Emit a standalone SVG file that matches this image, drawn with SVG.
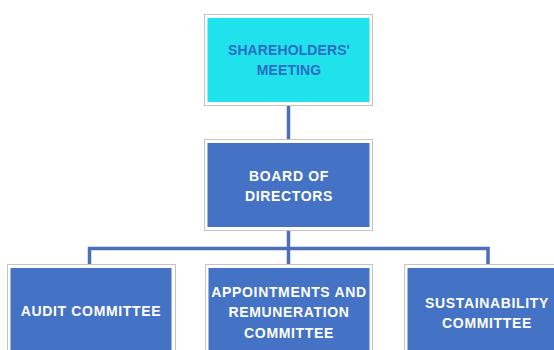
<svg xmlns="http://www.w3.org/2000/svg" width="554" height="350" viewBox="0 0 554 350">
<style>
.frame{fill:#ffffff;stroke:#c4c4c4;stroke-width:1}
.fill{fill:#4472c4}
.cyan{fill:#1fe2ec}
.t{font-family:"Liberation Sans",Arial,sans-serif;font-weight:bold;font-size:14px;text-anchor:middle;dominant-baseline:central;letter-spacing:0.65px}
.w{fill:#ffffff}
.b{fill:#2b6cc4;letter-spacing:0.1px}
.conn{fill:none;stroke:#4a70b8;stroke-width:3.5}
</style>
<rect width="554" height="350" fill="#ffffff"/>
<g id="connectors">
<path class="conn" d="M288.5,105 V139"/>
<path class="conn" d="M288.5,231 V264"/>
<path class="conn" d="M89.5,264 V248.5 H488 V264"/>
</g>
<g id="shareholders">
<rect class="frame" x="204.5" y="14.5" width="168" height="91"/>
<rect class="cyan" x="207.5" y="18" width="162" height="84"/>
<text class="t b" x="289" y="50">SHAREHOLDERS'</text>
<text class="t b" x="289" y="70">MEETING</text>
</g>
<g id="board">
<rect class="frame" x="204.5" y="139.5" width="168" height="91"/>
<rect class="fill" x="207.5" y="143" width="162" height="84"/>
<text class="t w" x="289" y="176">BOARD OF</text>
<text class="t w" x="289" y="196">DIRECTORS</text>
</g>
<g id="audit">
<rect class="frame" x="7.5" y="264.5" width="168" height="100"/>
<rect class="fill" x="10.5" y="268" width="161" height="90"/>
<text class="t w" x="91" y="311">AUDIT COMMITTEE</text>
</g>
<g id="appointments">
<rect class="frame" x="205.5" y="264.5" width="167" height="100"/>
<rect class="fill" x="208.5" y="268" width="161" height="90"/>
<text class="t w" x="289" y="291.5">APPOINTMENTS AND</text>
<text class="t w" x="289" y="312">REMUNERATION</text>
<text class="t w" x="289" y="333">COMMITTEE</text>
</g>
<g id="sustainability">
<rect class="frame" x="404.5" y="264.5" width="168" height="100"/>
<rect class="fill" x="407.5" y="268" width="161" height="90"/>
<text class="t w" x="487" y="302.5">SUSTAINABILITY</text>
<text class="t w" x="487" y="322.5">COMMITTEE</text>
</g>
</svg>
